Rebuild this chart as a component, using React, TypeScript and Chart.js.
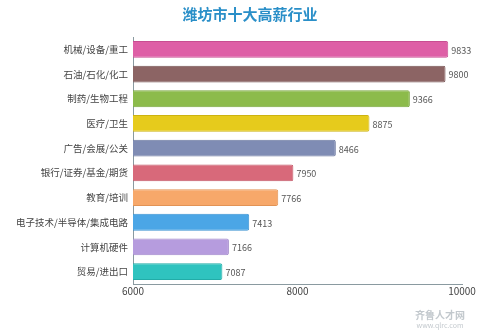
import React, { useEffect, useRef } from "react";
import { Chart, registerables } from "chart.js";

Chart.register(...registerables);

const titleText = "潍坊市十大高薪行业";
const categories = [
  "机械/设备/重工",
  "石油/石化/化工",
  "制药/生物工程",
  "医疗/卫生",
  "广告/会展/公关",
  "银行/证券/基金/期货",
  "教育/培训",
  "电子技术/半导体/集成电路",
  "计算机硬件",
  "贸易/进出口",
];
const salaries = [9833, 9800, 9366, 8875, 8466, 7950, 7766, 7413, 7166, 7087];
const barColors = [
  "#DE5FA6",
  "#8C6464",
  "#8CBB4B",
  "#E6CB1C",
  "#7F8CB4",
  "#D8697A",
  "#F7A86A",
  "#4BA6E6",
  "#B69CDE",
  "#2FC3BF",
];
const borderColors = [
  "#C84E92",
  "#775353",
  "#78A63D",
  "#CDB310",
  "#6C79A0",
  "#C25767",
  "#E29355",
  "#3A92D2",
  "#A188CA",
  "#22ACA8",
];
const xTicks = [6000, 8000, 10000];

const FONT = "'Noto Sans CJK SC', 'Noto Sans', sans-serif";

const valueLabels = {
  id: "valueLabels",
  afterDatasetsDraw(chart: any) {
    const ctx = chart.ctx;
    const meta = chart.getDatasetMeta(0);
    ctx.save();
    ctx.font = `9px ${FONT}`;
    ctx.fillStyle = "#555555";
    ctx.textAlign = "left";
    ctx.textBaseline = "middle";
    meta.data.forEach((bar: any, i: number) => {
      ctx.fillText(String(salaries[i]), bar.x + 3, bar.y + 1);
    });
    ctx.restore();
  },
};

const pageTitle = {
  id: "pageTitle",
  afterDraw(chart: any) {
    const ctx = chart.ctx;
    ctx.save();
    ctx.font = `bold 15px ${FONT}`;
    ctx.fillStyle = "#2A8FC8";
    ctx.textAlign = "center";
    ctx.textBaseline = "middle";
    ctx.fillText(titleText, 250, 14);
    ctx.restore();
  },
};

export default function App() {
  const ref = useRef<HTMLCanvasElement>(null);
  useEffect(() => {
    document.body.style.margin = "0";
    const chart = new Chart(ref.current!, {
      type: "bar",
      data: {
        labels: categories,
        datasets: [
          {
            data: salaries,
            backgroundColor: barColors,
            borderColor: borderColors,
            borderWidth: 1,
            borderRadius: 2,
            borderSkipped: false,
            barPercentage: 0.68,
            categoryPercentage: 1,
          },
        ],
      },
      options: {
        indexAxis: "y",
        animation: false,
        responsive: false,
        maintainAspectRatio: false,
        layout: { padding: { left: 0, right: 38, top: 37, bottom: 36 } },
        plugins: {
          legend: { display: false },
          tooltip: { enabled: false },
          title: { display: false },
        },
        scales: {
          x: {
            min: 6000,
            max: 10000,
            afterBuildTicks: (scale: any) => {
              scale.ticks = xTicks.map((v) => ({ value: v }));
            },
            grid: { display: false, drawTicks: false },
            border: { display: true, color: "#8A9AA0", width: 1 },
            ticks: {
              color: "#444444",
              font: { family: FONT, size: 10 },
              padding: 1,
              callback: (v: any) => String(v),
            },
          },
          y: {
            grid: { display: false, drawTicks: false },
            border: { display: true, color: "#8A9AA0", width: 1 },
            afterFit: (scale: any) => {
              scale.width = 133;
            },
            ticks: {
              color: "#444444",
              font: { family: FONT, size: 9.5 },
              padding: 5,
            },
          },
        },
      },
      plugins: [valueLabels, pageTitle],
    });
    return () => chart.destroy();
  }, []);
  return (
    <div style={{ position: "relative", width: 500, height: 334 }}>
      <canvas ref={ref} width={500} height={334} style={{ width: 500, height: 334, display: "block" }} />
      <div
        style={{
          position: "absolute",
          left: 415,
          top: 310,
          fontFamily: FONT,
          fontSize: 9,
          color: "#9AA4AC",
          lineHeight: "10px",
          textAlign: "center",
          opacity: 0.6,
        }}
      >
        <div style={{ fontWeight: "bold", fontSize: 10 }}>齐鲁人才网</div>
        <div style={{ fontSize: 7 }}>www.qlrc.com</div>
      </div>
    </div>
  );
}
